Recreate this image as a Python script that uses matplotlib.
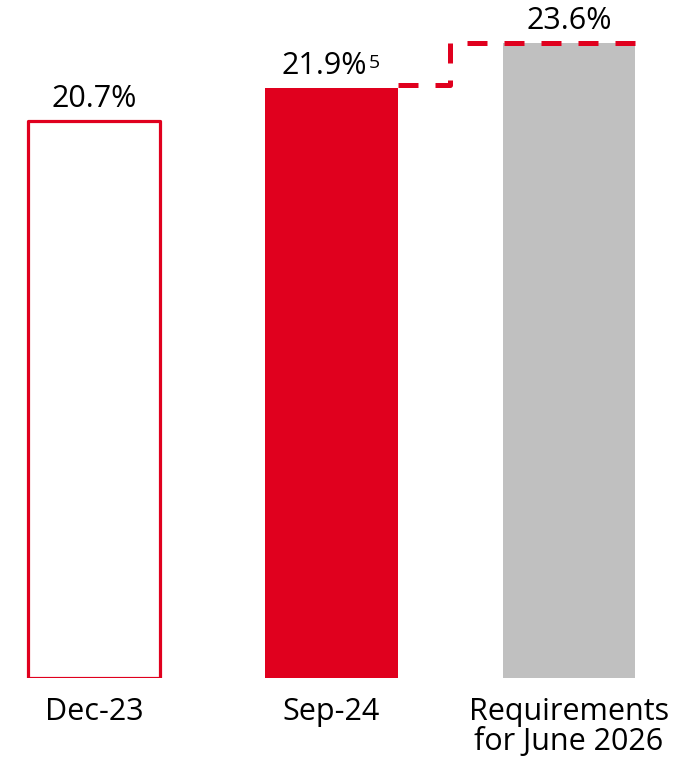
import matplotlib.pyplot as plt

categories = ["Dec-23", "Sep-24", "Requirements\nfor June 2026"]
values = [20.7, 21.9, 23.6]
value_labels = ["20.7%", "21.9%", "23.6%"]
footnote = "5"

red = "#E0001E"
grey = "#C0C0C0"

plt.rcParams['font.family'] = ['Open Sans', 'DejaVu Sans']

fig = plt.figure(figsize=(6.77, 7.62), dpi=100)
ax = fig.add_axes([0, 84 / 762, 1, 678 / 762])

x = list(range(len(values)))
width = 0.556

ax.bar(x[0], values[0], width=width, facecolor="white", edgecolor=red,
       linewidth=2.3, joinstyle="round")
ax.bar(x[1], values[1], width=width, color=red, linewidth=0)
ax.bar(x[2], values[2], width=width, color=grey, linewidth=0)

# dashed step from Sep-24 level up to the requirement level
mid = (x[1] + x[2]) / 2
ax.plot([x[1] + width / 2, mid, mid, x[2] + width / 2],
        [values[1] + 0.12, values[1] + 0.12, values[2], values[2]],
        color=red, linewidth=3.6, linestyle=(0, (4, 3.4)), solid_joinstyle="miter")

ax.set_xlim(-0.396, 2.455)
ax.set_ylim(0, 25.18)
ax.axis("off")

fig.canvas.draw()
renderer = fig.canvas.get_renderer()
for i, (v, lab) in enumerate(zip(values, value_labels)):
    t = ax.annotate(lab, (x[i], v), xytext=(0, 5), textcoords="offset points",
                    ha="center", va="bottom", fontsize=22, color="black")
    if i == 1:
        # footnote marker after the label, shift the pair to stay centred
        t.set_position((-5, 5))
        fig.canvas.draw()
        bb = t.get_window_extent(renderer)
        x_end, y_top = ax.transData.inverted().transform((bb.x1, bb.y1))
        ax.annotate(footnote, (x_end, y_top), xytext=(1, -2), textcoords="offset points",
                    ha="left", va="top", fontsize=14, color="black")

for i, cat in enumerate(categories):
    ax.annotate(cat, (x[i], 0), xytext=(0, -14), textcoords="offset points",
                ha="center", va="top", fontsize=22, color="black", linespacing=1.0)

fig.savefig("out.png", dpi=100)
